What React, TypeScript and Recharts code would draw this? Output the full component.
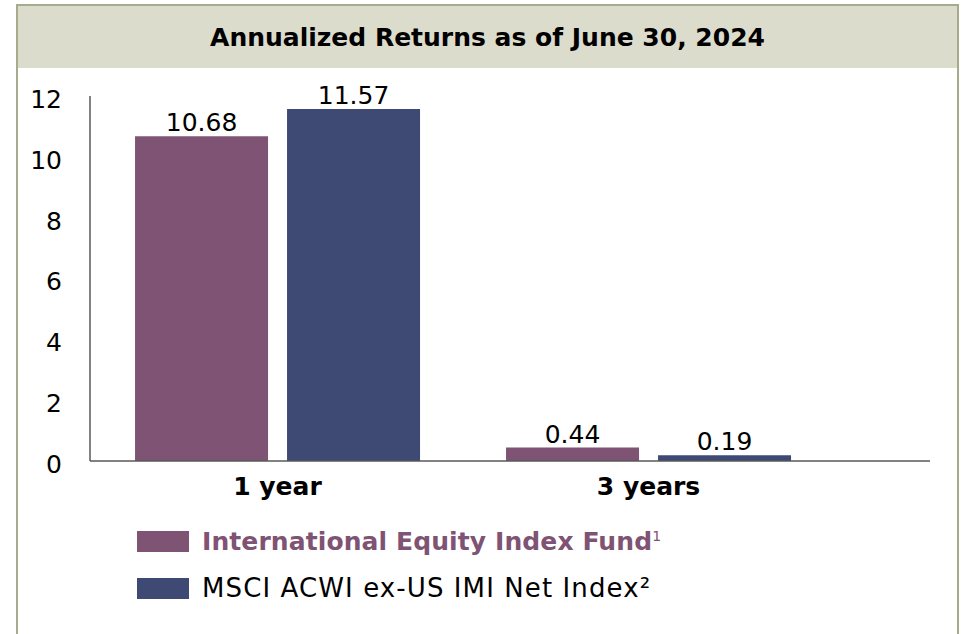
import React from "react";
import { Bar, BarChart, LabelList, XAxis, YAxis } from "recharts";

const categories = ["1 year", "3 years"];
const fundReturns = [10.68, 0.44];
const indexReturns = [11.57, 0.19];
const yTicks = [0, 2, 4, 6, 8, 10, 12];
const fundName = "International Equity Index Fund";
const indexName = "MSCI ACWI ex-US IMI Net Index²";
const chartTitle = "Annualized Returns as of June 30, 2024";

const FUND_COLOR = "#7f5373";
const INDEX_COLOR = "#3e4a74";
const FONT = "'DejaVu Sans', sans-serif";

const data = categories.map((name, i) => ({
  name,
  fund: fundReturns[i],
  index: indexReturns[i],
}));

const App = () => {
  return (
    <div
      style={{
        position: "absolute",
        left: 0,
        top: 0,
        width: 965,
        height: 634,
        background: "#fff",
        overflow: "hidden",
        fontFamily: FONT,
      }}
    >
      <div
        style={{
          position: "absolute",
          left: 16,
          top: 4,
          width: 943,
          height: 640,
          boxSizing: "border-box",
          borderTop: "2px solid #a4ac8b",
          borderLeft: "2px solid #a4ac8b",
          borderRight: "2px solid #a4ac8b",
        }}
      >
        <div
          style={{
            height: 62,
            background: "#dcdccd",
            display: "flex",
            alignItems: "center",
            justifyContent: "center",
            fontWeight: "bold",
            fontSize: 25,
            color: "#000",
          }}
        >
          {chartTitle}
        </div>
      </div>

      <div style={{ position: "absolute", left: 0, top: 0 }}>
        <BarChart
          width={965}
          height={634}
          data={data}
          margin={{ top: 96, right: 35, bottom: 133, left: 0 }}
          barCategoryGap="11.6%"
          barGap={19}
        >
          <XAxis
            dataKey="name"
            height={40}
            padding={{ left: 2, right: 96 }}
            tickLine={false}
            tickMargin={10}
            axisLine={{ stroke: "#595959", strokeWidth: 1.5 }}
            tick={{ fontSize: 25, fontWeight: "bold", fill: "#000", fontFamily: FONT }}
          />
          <YAxis
            width={90}
            domain={[0, 12]}
            ticks={yTicks}
            interval={0}
            tickLine={false}
            tickMargin={22}
            axisLine={{ stroke: "#595959", strokeWidth: 1.5 }}
            tick={{ fontSize: 25, fill: "#000", fontFamily: FONT, dy: 3 }}
          />
          <Bar dataKey="fund" name={fundName} fill={FUND_COLOR} isAnimationActive={false}>
            <LabelList
              dataKey="fund"
              position="top"
              offset={5}
              style={{ fontSize: 25, fill: "#000", fontFamily: FONT }}
            />
          </Bar>
          <Bar dataKey="index" name={indexName} fill={INDEX_COLOR} isAnimationActive={false}>
            <LabelList
              dataKey="index"
              position="top"
              offset={5}
              style={{ fontSize: 25, fill: "#000", fontFamily: FONT }}
            />
          </Bar>
        </BarChart>
      </div>

      {/* legend */}
      {[
        { name: fundName, color: FUND_COLOR, text: FUND_COLOR, bold: true, top: 530, size: 25, spacing: 0.1 },
        { name: indexName, color: INDEX_COLOR, text: "#000", bold: false, top: 577, size: 26, spacing: 1.1 },
      ].map((item) => (
        <div
          key={item.name}
          style={{
            position: "absolute",
            left: 137,
            top: item.top,
            height: 22,
            display: "flex",
            alignItems: "center",
            whiteSpace: "nowrap",
          }}
        >
          <div style={{ width: 52, height: 21, background: item.color, marginRight: 13 }} />
          <span
            style={{
              fontSize: item.size,
              letterSpacing: item.spacing,
              fontWeight: item.bold ? "bold" : "normal",
              color: item.text,
            }}
          >
            {item.name}
            {item.bold ? <sup style={{ fontSize: 14, fontWeight: "normal" }}>1</sup> : null}
          </span>
        </div>
      ))}
    </div>
  );
};

export default App;
